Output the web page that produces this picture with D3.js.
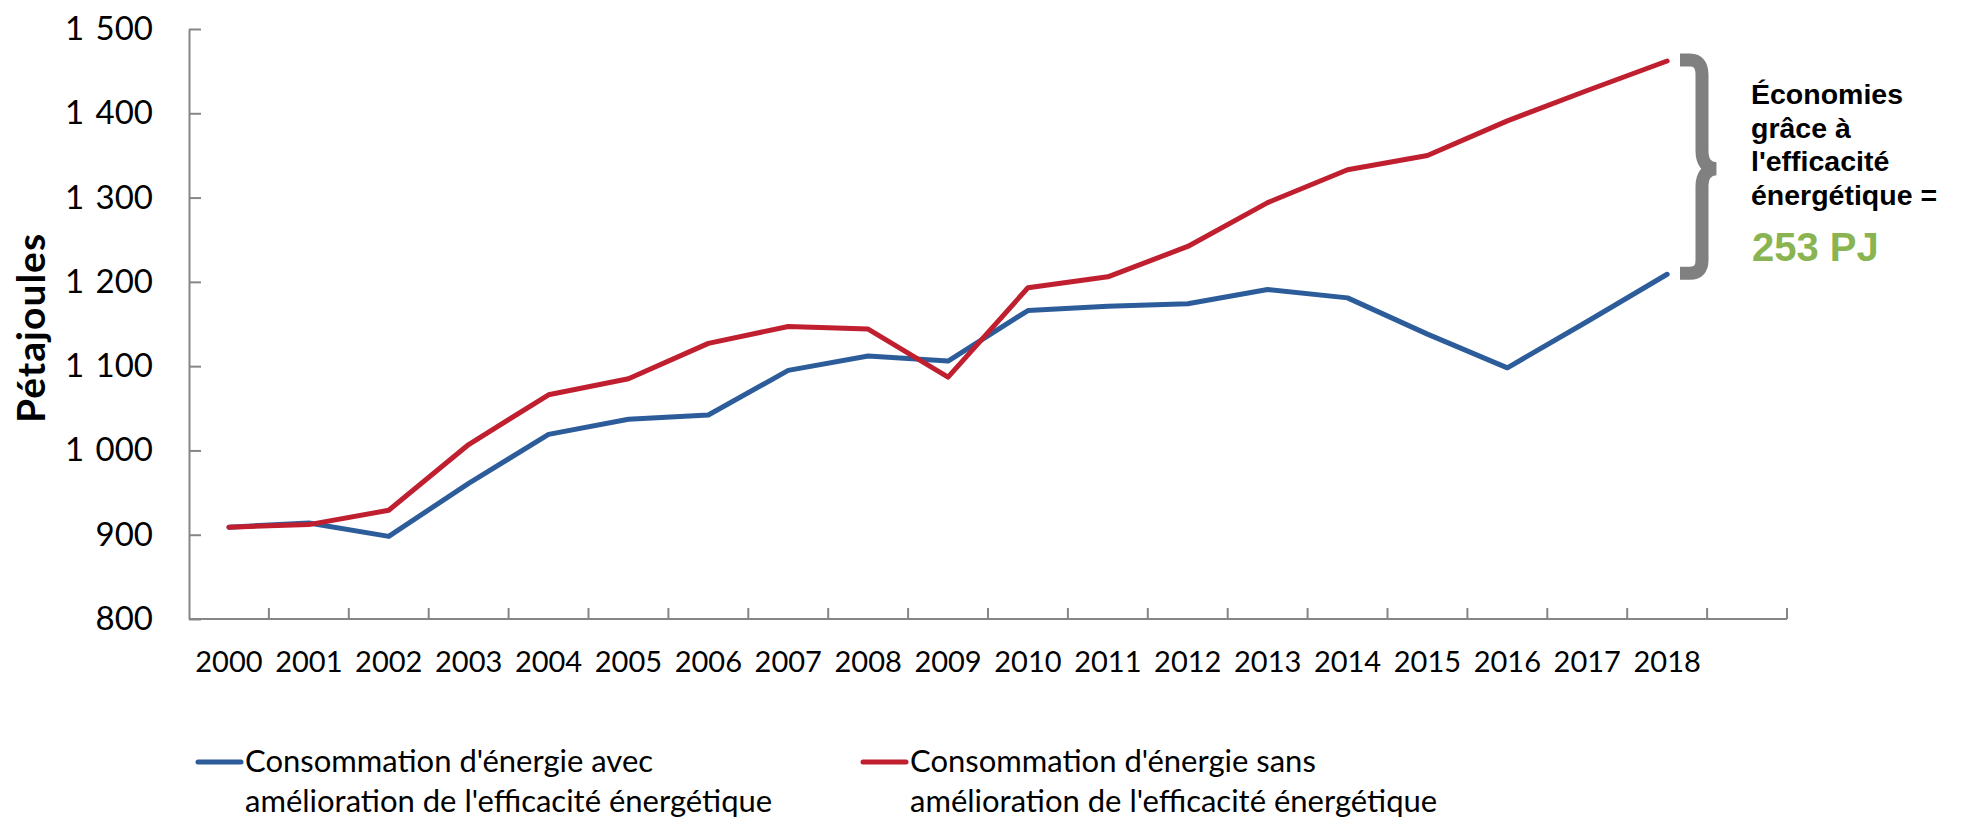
<!DOCTYPE html>
<html>
<head>
<meta charset="utf-8">
<script src="https://cdn.jsdelivr.net/npm/d3@7"></script>
<style>
  body { margin: 0; background: #fff; }
  text { fill: #000; }
  .tick-label { font-family: Lato, 'Open Sans', sans-serif; }
  .note { font-family: 'Liberation Sans', Arial, sans-serif; font-weight: bold; }
</style>
</head>
<body>
<script>
const years = ['2000', '2001', '2002', '2003', '2004', '2005', '2006', '2007', '2008', '2009',
               '2010', '2011', '2012', '2013', '2014', '2015', '2016', '2017', '2018'];
const withEfficiency = [909, 914, 898, 961, 1019, 1037, 1042, 1095, 1112, 1106,
                        1166, 1171, 1174, 1191, 1181, 1138, 1098, 1153, 1209];
const withoutEfficiency = [909, 912, 929, 1007, 1066, 1085, 1127, 1147, 1144, 1087,
                           1193, 1206, 1242, 1294, 1333, 1350, 1391, 1427, 1462];
const yTicks = [800, 900, 1000, 1100, 1200, 1300, 1400, 1500];
const seriesNames = [
  ["Consommation d'énergie avec", "amélioration de l'efficacité énergétique"],
  ["Consommation d'énergie sans", "amélioration de l'efficacité énergétique"]
];
const noteLines = ['Économies', 'grâce à', "l'efficacité", 'énergétique ='];
const savings = '253 PJ';

const width = 1970, height = 834;
const plotLeft = 189, plotRight = 1787, plotTop = 29, plotBottom = 619;
const blue = '#2c5d9a', red = '#c01f2f', axisGrey = '#868686';

const svg = d3.select('body')
              .append('svg')
              .attr('width', width)
              .attr('height', height);

// one empty slot after 2018, like the original category axis
const xScale = d3.scaleBand()
                 .domain(years.concat(['']))
                 .range([plotLeft, plotRight]);

const yScale = d3.scaleLinear()
                 .domain([800, 1500])
                 .range([plotBottom, plotTop]);

const fr = d3.formatLocale({decimal: ',', thousands: ' ', grouping: [3], currency: ['', '']});

const yAxis = d3.axisLeft(yScale)
  .tickValues(yTicks)
  .tickFormat(fr.format(','))
  .tickSizeInner(-12)
  .tickSizeOuter(0)
  .tickPadding(36);

const gy = svg.append('g')
  .attr('transform', 'translate(' + plotLeft + ', 0)')
  .call(yAxis);
gy.selectAll('path, line').attr('stroke', axisGrey).attr('stroke-width', 2);
gy.selectAll('text')
  .attr('class', 'tick-label')
  .style('font-size', '33px')
  .style('word-spacing', '3px')
  .attr('fill', '#000');

// x axis: line, ticks between categories, labels in the middle
const xAxisG = svg.append('g');
xAxisG.append('line')
  .attr('x1', plotLeft).attr('x2', plotRight)
  .attr('y1', plotBottom).attr('y2', plotBottom)
  .attr('stroke', axisGrey).attr('stroke-width', 2);

const edges = xScale.domain().slice(1).map((d) => xScale(d)).concat([plotRight]);
xAxisG.selectAll('.xtick')
  .data(edges)
  .enter()
  .append('line')
  .attr('class', 'xtick')
  .attr('x1', (d) => d).attr('x2', (d) => d)
  .attr('y1', plotBottom).attr('y2', plotBottom - 11)
  .attr('stroke', axisGrey).attr('stroke-width', 2);

xAxisG.selectAll('.xlabel')
  .data(years)
  .enter()
  .append('text')
  .attr('class', 'tick-label xlabel')
  .attr('x', (d) => xScale(d) + xScale.bandwidth() / 2)
  .attr('y', 672)
  .attr('text-anchor', 'middle')
  .style('font-size', '29px')
  .text((d) => d);

svg.append('text')
  .attr('transform', 'rotate(-90)')
  .attr('x', -328)
  .attr('y', 45)
  .attr('text-anchor', 'middle')
  .style('font-family', 'Lato, sans-serif')
  .style('font-weight', 'bold')
  .style('font-size', '39px')
  .style('letter-spacing', '1px')
  .text('Pétajoules');

const line = d3.line()
  .x((d, i) => xScale(years[i]) + xScale.bandwidth() / 2)
  .y((d) => yScale(d));

[[withEfficiency, blue], [withoutEfficiency, red]].forEach((s) => {
  svg.append('path')
    .datum(s[0])
    .attr('d', line)
    .attr('fill', 'none')
    .attr('stroke', s[1])
    .attr('stroke-width', 5)
    .attr('stroke-linejoin', 'round')
    .attr('stroke-linecap', 'round');
});

// brace between the two 2018 values
const yTop = yScale(withoutEfficiency[18]), yBot = yScale(withEfficiency[18]);
const yMid = (yTop + yBot) / 2 + 1;
svg.append('path')
  .attr('d', 'M1680,' + (yTop - 1) + ' L1690,' + (yTop - 1) +
             ' Q1702,' + (yTop - 1) + ' 1702,' + (yTop + 14) +
             ' L1702,' + (yMid - 18) + ' Q1702,' + (yMid - 1) + ' 1716,' + yMid +
             ' Q1702,' + (yMid + 1) + ' 1702,' + (yMid + 18) +
             ' L1702,' + (yBot - 14) + ' Q1702,' + (yBot - 1) + ' 1690,' + (yBot - 1) +
             ' L1680,' + (yBot - 1))
  .attr('fill', 'none')
  .attr('stroke', '#808080')
  .attr('stroke-width', 13);

svg.selectAll('.note')
  .data(noteLines)
  .enter()
  .append('text')
  .attr('class', 'note')
  .attr('x', 1751)
  .attr('y', (d, i) => 104 + i * 33.7)
  .style('font-size', '28.5px')
  .text((d) => d);

svg.append('text')
  .attr('class', 'note')
  .attr('x', 1752)
  .attr('y', 261)
  .style('font-size', '40px')
  .style('fill', '#8ab451')
  .text(savings);

// legend
const legendData = [[blue, seriesNames[0], 198], [red, seriesNames[1], 863]];
const legend = svg.append('g').attr('class', 'legend');

legend.selectAll('line')
  .data(legendData)
  .enter()
  .append('line')
  .attr('x1', (d) => d[2]).attr('x2', (d) => d[2] + 43)
  .attr('y1', 762).attr('y2', 762)
  .attr('stroke', (d) => d[0])
  .attr('stroke-width', 5)
  .attr('stroke-linecap', 'round');

const legendText = legend.selectAll('text')
  .data(legendData)
  .enter()
  .append('text')
  .attr('x', (d) => d[2] + 47)
  .attr('y', 772)
  .style('font-family', 'Lato, sans-serif')
  .style('font-size', '31px');

legendText.selectAll('tspan')
  .data((d) => d[1].map((t) => [t, d[2] + 47]))
  .enter()
  .append('tspan')
  .attr('x', (d) => d[1])
  .attr('dy', (d, i) => i ? 40 : 0)
  .text((d) => d[0]);
</script>
</body>
</html>
